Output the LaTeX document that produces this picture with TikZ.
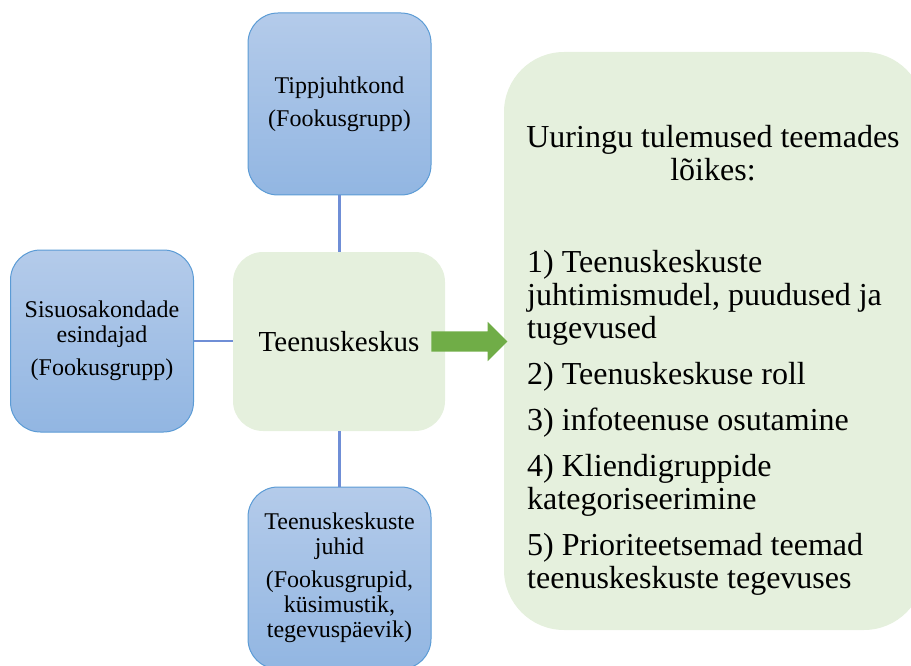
\documentclass[tikz,border=0pt]{standalone}
\usepackage{fontspec}
\setmainfont{Liberation Serif}
\usetikzlibrary{shapes.arrows}

\definecolor{boxblue}{RGB}{91,155,213}
\definecolor{bluetop}{RGB}{180,203,234}
\definecolor{bluebot}{RGB}{146,182,226}
\definecolor{palegreen}{RGB}{229,240,221}
\definecolor{linkblue}{RGB}{111,142,214}
\definecolor{arrowgreen}{RGB}{112,173,71}

\tikzset{
    fokus/.style={draw=boxblue,line width=1pt,rounded corners=30pt,
        top color=bluetop,bottom color=bluebot,minimum width=183pt,
        minimum height=182pt,align=center,inner sep=0pt,
        font=\fontsize{24}{25}\selectfont},
    keskusbox/.style={fill=palegreen,rounded corners=30pt,
        minimum width=212pt,minimum height=179pt,
        font=\fontsize{29}{33}\selectfont},
    link/.style={draw=linkblue,line width=2.5pt},
}

\begin{document}
\begin{tikzpicture}[x=1pt,y=-1pt]
    \useasboundingbox (0,0) rectangle (911,666);
    \clip (0,0) rectangle (911,666);

    \node[fill=palegreen,rounded corners=60pt,minimum width=420pt,
        minimum height=578pt] (tulemused) at (714,341) {};
    \node[keskusbox] (keskus) at (339,341.5) {Teenuskeskus};

    \node[fokus] (tipp) at (339.5,104) {Tippjuhtkond\\[8pt](Fookusgrupp)};
    \node[fokus] (sisu) at (102,341)
        {Sisuosakondade\\esindajad\\[8pt](Fookusgrupp)};
    \node[fokus] (juhid) at (339.5,578)
        {Teenuskeskuste\\juhid\\[8pt](Fookusgrupid,\\küsimustik,\\tegevuspäevik)};

    \draw[link] (tipp.south) -- (tipp.south |- keskus.north);
    \draw[link] (sisu.east) -- (sisu.east -| keskus.west);
    \draw[link] (juhid.north |- keskus.south) -- (juhid.north);

    \node[single arrow,fill=arrowgreen,inner sep=10pt,minimum height=76pt,
        single arrow head extend=9.5pt,anchor=tail] (nool)
        at ([xshift=-14pt]keskus.east) {};

    \node[font=\fontsize{32}{33}\selectfont,align=center,anchor=north,
        inner sep=0pt] (pealkiri) at (713,125)
        {Uuringu tulemused teemades\\lõikes:};
    \node[font=\fontsize{32}{33}\selectfont,align=left,anchor=north west,
        inner sep=0pt] (teemad) at (527,250)
        {1) Teenuskeskuste\\juhtimismudel, puudused ja\\tugevused\\[13pt]
         2) Teenuskeskuse roll\\[13pt]
         3) infoteenuse osutamine\\[13pt]
         4) Kliendigruppide\\kategoriseerimine\\[13pt]
         5) Prioriteetsemad teemad\\teenuskeskuste tegevuses};
\end{tikzpicture}
\end{document}
